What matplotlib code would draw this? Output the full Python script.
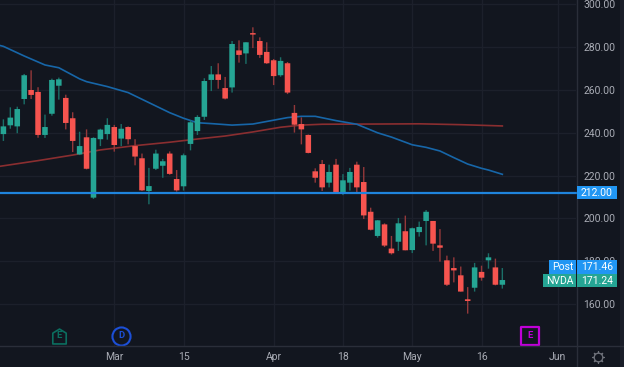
import matplotlib
matplotlib.use("Agg")
import matplotlib.pyplot as plt
from matplotlib.path import Path
from matplotlib.patches import Rectangle, FancyBboxPatch
from matplotlib.transforms import blended_transform_factory

plt.rcParams['font.family'] = ['Roboto', 'DejaVu Sans']

opens = [239.4,243.5,243.0,255.8,260.0,259.1,239.0,248.9,262.0,256.3,246.8,229.9,237.9,209.7,237.0,239.4,242.7,237.3,242.7,233.8,
         228.1,212.8,223.2,224.6,230.3,218.4,215.0,234.8,240.8,247.5,264.7,267.3,260.9,261.2,278.5,277.1,286.6,282.9,277.8,273.9,
         266.9,272.5,249.3,244.1,239.0,222.0,225.4,216.7,225.1,211.7,216.7,225.1,217.0,203.1,191.8,197.2,185.9,189.1,194.0,185.2,
         193.6,198.8,198.8,187.4,180.4,176.8,173.4,162.2,167.6,175.0,180.4,177.1,169.0]
closes = [243.0,247.1,251.1,266.9,257.7,239.0,242.7,264.7,265.0,244.6,236.2,233.8,223.2,237.6,241.5,243.7,234.3,241.9,237.0,228.9,
          213.1,215.1,230.3,226.7,220.8,213.1,229.5,244.9,247.4,264.2,267.3,264.7,256.0,281.5,276.4,282.3,285.9,276.4,272.5,266.5,
          273.6,258.8,243.8,241.6,230.6,219.0,214.5,221.7,211.9,217.8,221.7,214.5,201.4,194.7,199.1,187.3,183.7,197.7,185.1,195.4,
          196.0,203.1,188.2,186.3,169.0,175.7,165.8,161.4,177.1,172.3,181.8,169.0,171.2]
highs = [246.3,251.9,252.2,267.5,269.2,261.3,248.5,265.3,265.8,257.8,249.6,240.5,241.6,237.9,241.9,246.8,243.7,244.1,243.0,237.0,
         230.3,223.6,232.1,227.8,231.3,222.6,230.3,245.8,248.2,265.5,271.2,272.5,266.1,282.9,283.2,282.3,289.3,284.6,282.3,274.5,
         275.3,273.1,253.0,247.2,239.2,223.4,227.3,225.1,227.8,220.7,223.6,226.5,224.0,205.0,199.2,197.7,191.8,200.2,201.3,195.7,
         198.5,203.9,198.8,195.0,182.6,181.8,177.5,167.9,179.2,177.9,183.7,181.2,176.8]
lows = [236.2,241.9,239.8,253.3,255.8,237.7,237.6,248.0,255.5,241.6,231.0,229.6,222.9,209.1,233.8,236.8,231.2,233.8,234.6,224.8,
        212.8,206.6,222.6,219.0,220.4,212.5,213.0,231.8,239.0,246.0,259.5,260.6,255.6,258.8,272.8,272.2,279.6,275.0,272.2,262.3,
        266.2,258.1,240.1,234.6,230.4,216.7,212.8,214.5,211.4,210.9,213.0,212.0,199.7,194.4,191.0,186.6,183.1,184.8,185.1,183.8,
        191.5,187.4,184.8,179.8,168.4,170.1,165.8,155.5,165.8,170.9,176.5,168.7,167.2]

ma_blue_idx = [-1,0,3,6,8,11,12,15,18,21,24,26,28,30,33,36,38,41,43,45,48,51,54,56,59,61,63,65,67,69,70,72]
ma_blue = [281.2,280.4,275.9,271.7,270.4,265.2,263.9,261.6,258.8,254.1,249.4,246.8,244.7,244.3,243.6,244.1,245.3,247.1,247.7,247.7,
           245.7,244.0,240.0,238.0,234.4,233.2,231.5,228.4,225.4,223.4,222.6,220.6]
ma_red_idx = [-1,5,10,14,19,24,28,32,36,40,43,46,54,60,66,72]
ma_red = [224.1,227.0,229.6,232.0,234.0,235.6,237.1,238.5,240.4,242.6,243.6,244.0,244.1,244.2,243.8,243.2]

level_price = 212.0
level_label = "212.00"
post_price, post_label = 171.46, "171.46"
last_price, last_label = 171.24, "171.24"
y_ticks = [160, 180, 200, 220, 240, 260, 280, 300]
x_tick_idx = [16, 26, 39, 49, 59, 69, 80]
x_tick_labels = ["Mar", "15", "Apr", "18", "May", "16", "Jun"]
events = [(8, "E", "#0b6e5f", "house"), (17, "D", "#1c4fd6", "circle"), (76, "E", "#c000d8", "square")]

BG = "#12161f"
GRID = "#1c202b"
SEP = "#2a2e39"
TXT = "#a9acb5"
UP, DOWN = "#25a594", "#f6544f"
UPW, DOWNW = "#1b6f68", "#94383a"
W, H = 624, 367

fig = plt.figure(figsize=(W/100, H/100), dpi=100, facecolor=BG)
ax = fig.add_axes([0, 21/H, 576/W, 346/H], facecolor=BG)
ax.set_xlim(-0.49, 82.63)
ax.set_ylim(140.37, 302.06)
for s in ax.spines.values():
    s.set_visible(False)

ax.set_axisbelow(True)
ax.grid(True, color=GRID, lw=1.0)
ax.set_yticks(y_ticks)
ax.set_yticklabels([f"{v:.2f}" for v in y_ticks])
ax.yaxis.tick_right()
ax.set_xticks(x_tick_idx)
ax.set_xticklabels(x_tick_labels)
ax.tick_params(axis='y', length=0, pad=5.5, labelsize=7.5, labelcolor=TXT)
ax.tick_params(axis='x', length=0, pad=4.5, labelsize=7.5, labelcolor=TXT)

ax.plot(ma_red_idx, ma_red, color="#8a2e30", lw=1.2, zorder=2)
ax.plot(ma_blue_idx, ma_blue, color="#1766a8", lw=1.2, zorder=2)

idx = list(range(len(opens)))
colors = [UP if c >= o else DOWN for o, c in zip(opens, closes)]
wicks = [UPW if c >= o else DOWNW for o, c in zip(opens, closes)]
wl = ax.vlines(idx, lows, highs, colors=wicks, lw=1.0, zorder=3)
wl.set_snap(False)
bars = ax.bar(idx, [abs(c-o) for o, c in zip(opens, closes)], bottom=[min(o, c) for o, c in zip(opens, closes)],
              width=0.8, color=colors, linewidth=0, zorder=4)
for b in bars:
    b.set_snap(False)

ax.axhline(level_price, color="#1f84dc", lw=1.6, zorder=5, clip_on=False)

# axis separators and the far right strip
fig.add_artist(plt.Line2D([576.5/W, 576.5/W], [0, 1], color=SEP, lw=1.0))
fig.add_artist(plt.Line2D([0, 1], [21/H, 21/H], color=SEP, lw=1.0))
fig.add_artist(Rectangle((620/W, 0), 4/W, 1, transform=fig.transFigure, color="#1a1e29", lw=0))

# price badges; the Post badge sits one badge height above the last price
def badge(price, x0, x1, color, text, shift=0.0, h=13.5):
    px_y = ax.transData.transform((0, price))[1] + shift
    fig.add_artist(Rectangle((x0/W, (px_y-h/2)/H), (x1-x0)/W, h/H, transform=fig.transFigure, color=color, lw=0, zorder=6))
    fig.text((x0+x1)/2/W, (px_y-0.3)/H, text, color="white", fontsize=7.5, ha='center', va='center', zorder=7)

badge(level_price, 576.5, 617, "#2196f3", level_label)
badge(post_price, 549, 576, "#2196f3", "Post", shift=12.5)
badge(post_price, 576.5, 617, "#2196f3", post_label, shift=12.5)
badge(last_price, 543, 576, "#25a594", "NVDA", shift=-0.5)
badge(last_price, 576.5, 617, "#25a594", last_label, shift=-0.5)

# event markers along the bottom of the pane
trans = blended_transform_factory(ax.transData, ax.transAxes)
house = Path([(-0.9, -1), (0.9, -1), (0.9, 0.45), (0, 1), (-0.9, 0.45), (-0.9, -1)], closed=True)
shapes = {"house": (house, 115), "circle": ("o", 170), "square": ("s", 150)}
widths = {"house": 1.2, "circle": 1.5, "square": 1.6}
ypos = 10.5/346
for i, letter, col, shape in events:
    m, s = shapes[shape]
    ax.scatter([i], [ypos], marker=m, s=s, facecolor=BG, edgecolor=col, linewidth=widths[shape], transform=trans, zorder=6, clip_on=False)
    ax.text(i, ypos, letter, color=col, fontsize=6.8, fontweight='bold', ha='center', va='center', transform=trans, zorder=7)

# settings gear in the corner
gear = fig.add_axes([0, 0, 1, 1], facecolor='none')
gear.set_xlim(0, W); gear.set_ylim(H, 0); gear.axis('off')
gear.scatter([598], [357], marker=(8, 2, 0), s=70, color="#6f727b", linewidth=0.9)
gear.scatter([598], [357], marker='o', s=38, facecolor=BG, edgecolor="#6f727b", linewidth=0.9)

fig.savefig("out.png", dpi=100, facecolor=BG)
